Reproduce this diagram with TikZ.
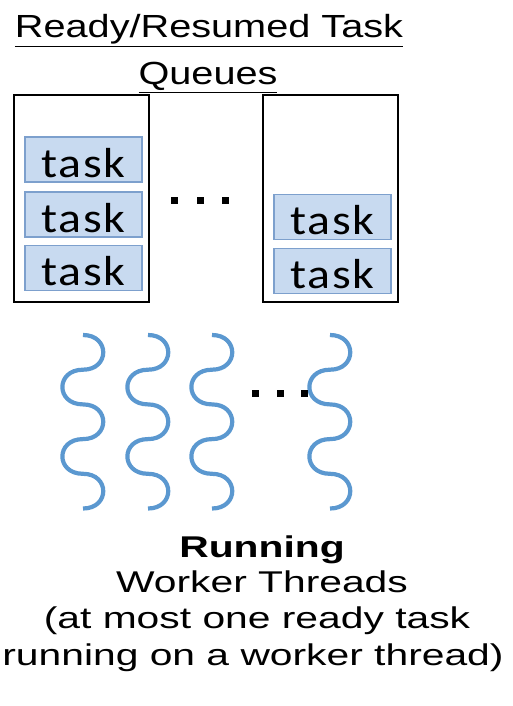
\documentclass[tikz,border=0pt]{standalone}
\usepackage{fontspec}
\setmainfont{Liberation Sans}
\newfontfamily\titlefont[FakeStretch=1.24]{Liberation Sans}
\newfontfamily\captionfont[FakeStretch=1.36]{Liberation Sans}
\newfontfamily\taskfont[FakeStretch=1.14,LetterSpace=4]{Carlito}

\definecolor{taskfill}{RGB}{200,218,240}
\definecolor{taskedge}{RGB}{125,160,205}
\definecolor{threadblue}{RGB}{91,152,208}

\tikzset{
  queue/.style={draw=black, line width=2.8pt, minimum width=135pt, minimum height=207pt, inner sep=0pt},
  taskbox/.style={draw=taskedge, fill=taskfill, line width=1.3pt,
    minimum width=117pt, minimum height=45pt, inner sep=0pt,
    text height=35pt, text depth=0pt,
    font=\taskfont\fontsize{42}{42}\selectfont},
  thread/.style={draw=threadblue, line width=4.2pt},
  dotmark/.style={fill=black, minimum size=7pt, inner sep=0pt},
  heading/.style={font=\titlefont\fontsize{32}{32}\selectfont, anchor=base, inner sep=0pt},
  caption/.style={font=\captionfont\fontsize{30}{30}\selectfont, anchor=base, inner sep=0pt},
  % one thread: five half-ellipses alternating right/left, drawn from its top end
  wavethread/.pic={
    \draw[thread] (0,0)
      .. controls (27,0) and (27,34.7) .. (0,34.7)
      .. controls (-27.5,34.7) and (-27.5,69.4) .. (0,69.4)
      .. controls (27,69.4) and (27,104.1) .. (0,104.1)
      .. controls (-27.5,104.1) and (-27.5,138.8) .. (0,138.8)
      .. controls (27,138.8) and (27,173.5) .. (0,173.5);
  }
}

\begin{document}
\begin{tikzpicture}[x=1pt, y=-1pt]
\useasboundingbox (0,0) rectangle (513,706);

% heading
\node[heading] (title1) at (209,38) {\underline{Ready/Resumed Task}};
\node[heading] (title2) at (208,85) {\underline{Queues}};

% queues
\node[queue] (q1) at (81.5,198.5) {};
\node[queue] (q2) at (330.5,198.5) {};

\node[taskbox] (t11) at (83.5,159.5) {task};
\node[taskbox] (t12) at (83.5,214.5) {task};
\node[taskbox] (t13) at (83.5,268) {task};
\node[taskbox] (t21) at (332.5,217) {task};
\node[taskbox] (t22) at (332.5,271) {task};

\node[dotmark] (qd1) at (174,200) {};
\node[dotmark] (qd2) at (200,200) {};
\node[dotmark] (qd3) at (225,200) {};

% worker threads
\pic at (83,335) {wavethread};
\pic at (148,335) {wavethread};
\pic at (212,335) {wavethread};
\pic at (330,335) {wavethread};

\node[dotmark] (wd1) at (255,393) {};
\node[dotmark] (wd2) at (280,393) {};
\node[dotmark] (wd3) at (304,393) {};

% caption
\node[caption] (c1) at (262,557) {\bfseries Running};
\node[caption] (c2) at (262,592) {Worker Threads};
\node[caption] (c3) at (257,628) {(at most one ready task};
\node[caption] (c4) at (253,665) {running on a worker thread)};
\end{tikzpicture}
\end{document}
